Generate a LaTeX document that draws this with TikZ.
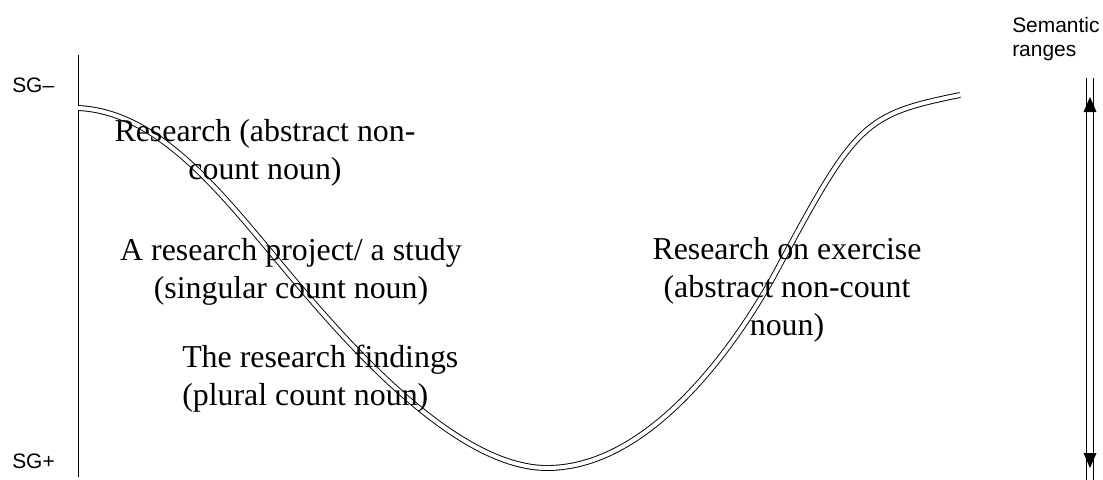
\documentclass[tikz,border=0pt]{standalone}
\usepackage{fontspec}
\setmainfont{Liberation Serif}
\newfontfamily\sansf{Liberation Sans}
\begin{document}
\begin{tikzpicture}[x=0.75pt,y=-0.75pt,
  lbl/.style={font=\fontsize{23.9}{28.5}\selectfont, inner sep=0pt, align=center},
  sg/.style={font=\sansf\fontsize{15.7}{18}\selectfont, inner sep=0pt},
  wave/.style={line width=0.7pt, double distance=3pt, double=white},
  rail/.style={line width=0.75pt},
  tipfill/.style={fill=black, draw=none}]
\useasboundingbox (0,0) rectangle (1103,479);

% vertical axis
\coordinate (axtop) at (78,55);
\coordinate (axbot) at (78,477);
\draw[rail] (axtop) -- (axbot);

% wave
\coordinate (w0) at (78,108);
\coordinate (w1) at (300,287);
\coordinate (w2) at (547,468);
\coordinate (w3) at (777,270);
\coordinate (w4) at (960,95);
\draw[wave] (w0) .. controls (165,112) and (230,205) .. (w1)
  .. controls (350,345.5) and (457,468) .. (w2)
  .. controls (660,468) and (750,320.5) .. (w3)
  .. controls (856,122.3) and (864,114.5) .. (w4);

% semantic range arrow (double shaft, two heads)
\coordinate (atop) at (1090,97);
\coordinate (abot) at (1090,468);
\draw[rail] ([xshift=-2.5,yshift=14]atop) -- ([xshift=-2.5,yshift=-14]abot);
\draw[rail] ([xshift=2.5,yshift=14]atop) -- ([xshift=2.5,yshift=-14]abot);
\fill[tipfill] (atop) -- ++(-6.5,15) -- ++(13,0) -- cycle;
\fill[tipfill] (abot) -- ++(-6.5,-15) -- ++(13,0) -- cycle;

% labels
\node[sg, anchor=base west] (sgm) at (12,92) {SG–};
\node[sg, anchor=base west] (sgp) at (12,468) {SG+};
\node[sg, anchor=north west, align=left] (sem) at (1012,17) {Semantic\\ranges};

\node[lbl] (t1) at (265,153) {Research (abstract non-\\count noun)};
\node[lbl] (t2) at (291,272) {A research project/ a study\\(singular count noun)};
\node[lbl, align=left, anchor=west] (t3) at (182,379) {The research findings\\(plural count noun)};
\node[lbl] (t4) at (787,290) {Research on exercise\\(abstract non-count\\noun)};
\end{tikzpicture}
\end{document}
